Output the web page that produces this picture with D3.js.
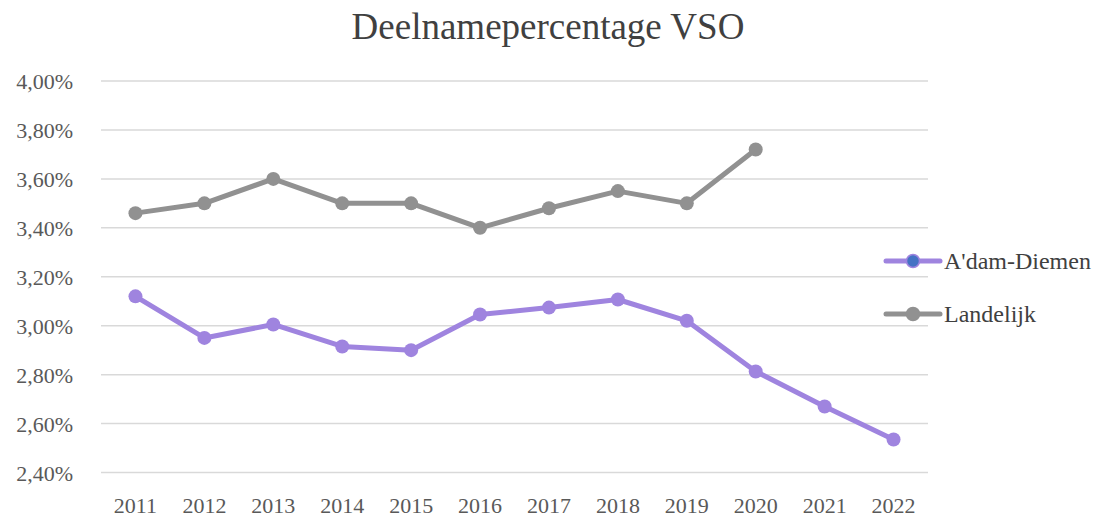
<!DOCTYPE html>
<html lang="en">
<head>
  <meta charset="UTF-8">
  <title>Deelnamepercentage VSO</title>
  <style>
    body { margin: 0; background: #fff; }
    * { font-family: 'Liberation Serif', serif; }
    .grid line { stroke: #d9d9d9; stroke-width: 1.5; }
    .axis text { fill: #595959; font-size: 22px; }
  </style>
</head>
<body>
  <div id="plot"></div>
  <script src="https://cdn.jsdelivr.net/npm/d3@7/dist/d3.min.js"></script>
  <script>
    const years = ['2011', '2012', '2013', '2014', '2015', '2016', '2017', '2018', '2019', '2020', '2021', '2022'];
    const adamDiemen = [3.12, 2.95, 3.005, 2.915, 2.90, 3.046, 3.074, 3.107, 3.02, 2.813, 2.67, 2.535];
    const landelijk = [3.46, 3.50, 3.60, 3.50, 3.50, 3.40, 3.48, 3.55, 3.50, 3.72, null, null];
    const yTicks = [2.4, 2.6, 2.8, 3.0, 3.2, 3.4, 3.6, 3.8, 4.0];

    const series = [
      { name: "A'dam-Diemen", values: adamDiemen, color: '#9f84df', legendDot: '#4472c4' },
      { name: 'Landelijk', values: landelijk, color: '#919191', legendDot: '#919191' }
    ];

    const W = 1104, H = 520;
    const margin = { top: 81, right: 176, bottom: 47, left: 101 };
    const width = W - margin.left - margin.right;
    const height = H - margin.top - margin.bottom - 0.5;

    const svg = d3.select('#plot').append('svg')
      .attr('width', W)
      .attr('height', H);

    // title
    svg.append('text')
      .attr('x', 548)
      .attr('y', 39)
      .attr('text-anchor', 'middle')
      .style('font-size', '37px')
      .style('fill', '#404040')
      .text('Deelnamepercentage VSO');

    const g = svg.append('g')
      .attr('transform', `translate(${margin.left}, ${margin.top})`);

    const x = d3.scaleBand().domain(years).range([0, width]);
    const y = d3.scaleLinear().domain([2.4, 4.0]).range([height, 0]);

    // gridlines
    g.append('g').attr('class', 'grid')
      .selectAll('line')
      .data(yTicks)
      .enter().append('line')
      .attr('x1', 0).attr('x2', width)
      .attr('y1', d => y(d)).attr('y2', d => y(d));

    const fmt = d => d.toFixed(2).replace('.', ',') + '%';
    const yAxis = g.append('g').attr('class', 'axis')
      .call(d3.axisLeft(y).tickValues(yTicks).tickFormat(fmt).tickSize(0).tickPadding(28));
    yAxis.select('.domain').remove();
    yAxis.selectAll('text').attr('dy', '0.35em');

    const xAxis = g.append('g').attr('class', 'axis')
      .attr('transform', `translate(0, ${height})`)
      .call(d3.axisBottom(x).tickSize(0).tickPadding(25));
    xAxis.select('.domain').remove();

    const cx = i => x(years[i]) + x.bandwidth() / 2;
    const line = d3.line()
      .defined(d => d != null)
      .x((d, i) => cx(i))
      .y(d => y(d));

    series.forEach(s => {
      g.append('path')
        .datum(s.values)
        .attr('fill', 'none')
        .attr('stroke', s.color)
        .attr('stroke-width', 5)
        .attr('stroke-linejoin', 'round')
        .attr('stroke-linecap', 'round')
        .attr('d', line);
      g.selectAll(null)
        .data(s.values.map((v, i) => ({ v, i })).filter(d => d.v != null))
        .enter().append('circle')
        .attr('cx', d => cx(d.i))
        .attr('cy', d => y(d.v))
        .attr('r', 7)
        .attr('fill', s.color);
    });

    // legend
    const legend = svg.append('g').attr('transform', 'translate(886, 0)');
    const legendY = [261, 314];
    series.forEach((s, i) => {
      const row = legend.append('g').attr('transform', `translate(0, ${legendY[i]})`);
      row.append('line')
        .attr('x1', 0).attr('x2', 54)
        .attr('stroke', s.color)
        .attr('stroke-width', 5)
        .attr('stroke-linecap', 'round');
      row.append('circle')
        .attr('cx', 27).attr('r', 6.5)
        .attr('fill', s.legendDot)
        .attr('stroke', s.color)
        .attr('stroke-width', 1.5);
      row.append('text')
        .attr('x', 58)
        .attr('dy', '0.35em')
        .style('font-size', '24px')
        .style('fill', '#404040')
        .text(s.name);
    });
  </script>
</body>
</html>
